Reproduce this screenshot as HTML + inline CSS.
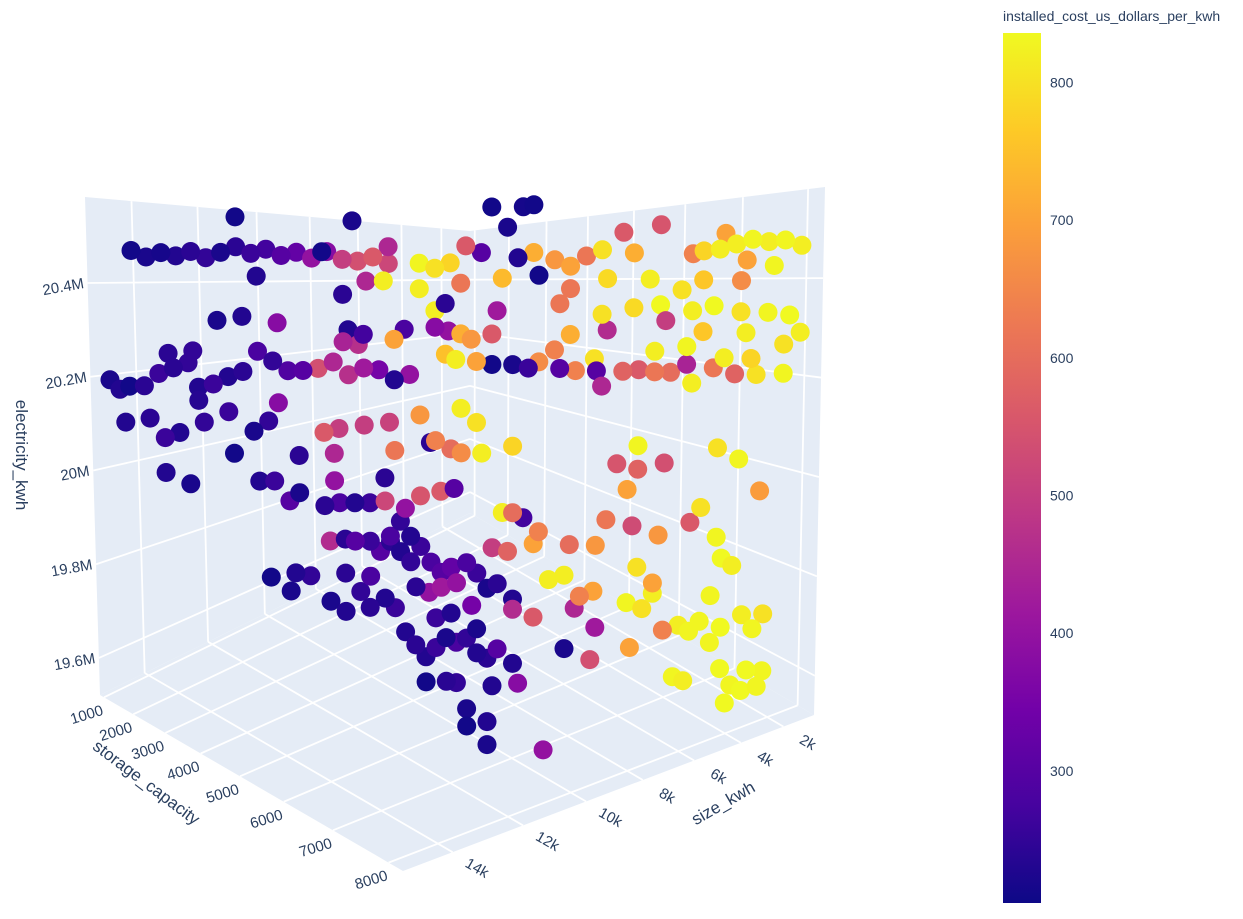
<!DOCTYPE html>
<html><head><meta charset="utf-8"><style>
html,body{margin:0;padding:0;background:#fff;}
svg text{font-family:"Liberation Sans",sans-serif;fill:#2a3f5f;}
</style></head><body>
<svg id="chart" width="1243" height="914" viewBox="0 0 1243 914" xmlns="http://www.w3.org/2000/svg">
<defs>
<linearGradient id="plasma" x1="0" y1="1" x2="0" y2="0">
<stop offset="0" stop-color="#0d0887"/><stop offset="0.111" stop-color="#46039f"/><stop offset="0.222" stop-color="#7201a8"/><stop offset="0.333" stop-color="#9c179e"/><stop offset="0.444" stop-color="#bd3786"/><stop offset="0.556" stop-color="#d8576b"/><stop offset="0.667" stop-color="#ed7953"/><stop offset="0.778" stop-color="#fb9f3a"/><stop offset="0.889" stop-color="#fdca26"/><stop offset="1" stop-color="#f0f921"/>
</linearGradient>
</defs>
<g id="walls"></g>
<g id="grid"></g>
<g id="ticks"></g>
<g id="points"></g>
<text transform="translate(16,455) rotate(90)" text-anchor="middle" font-size="17">electricity_kwh</text>
<text transform="translate(143,787) rotate(37)" text-anchor="middle" font-size="17">storage_capacity</text>
<text transform="translate(726,808) rotate(-30)" text-anchor="middle" font-size="17">size_kwh</text>
<g>
<text x="1003" y="21" font-size="14">installed_cost_us_dollars_per_kwh</text>
<rect x="1003" y="33" width="38" height="870" fill="url(#plasma)"/>
<g id="cbticks"></g>
</g>
</svg>
<script>
const sizeKwh=[14855,14540,14225,13910,13595,13280,12965,12650,12335,12020,11705,11390,11075,10760,10445,10130,9815,9500,12650,10235,12230,10865,
8870,8555,8240,7925,7610,7400,7085,6770,6560,6875,6455,6560,6140,5825,5510,5195,4775,4565,4040,3410,3200,2885,2780,2570,2255,1940,1625,1310,2360,1835,3200,2465,3620,4250,5090,5825,7190,8030,8870,8345,9500,
10445,9962,9605,4040,3410,2990,2465,1940,1520,1310,3935,4565,5195,6035,7295,8555,9185,
15380,15170,14960,14645,14330,14015,13700,13490,13175,12860,12545,12230,11915,11600,14120,13595,13070,12545,11810,11285,10970,10655,10340,10025,9710,9395,9080,10340,10025,10445,10130,9395,8555,8282,8030,7820,7400,8345,8135,7715,7400,6980,6665,6455,6140,6035,5720,5342,5300,5195,4775,4460,4145,3830,3515,3410,2990,2570,2150,1625,2780,2255,3515,4145,3200,2360,1625,5825,5090,
15065,14540,14225,13910,13385,12860,12335,12020,14225,13700,12755,13490,11810,11390,10655,10550,10865,10025,9500,9395,8870,8555,8240,8030,7610,7715,8660,8030,6980,
12230,11915,11600,11390,10865,10550,10235,9920,9605,9185,8870,8450,8177,10655,9605,7190,6770,6980,6455,6560,5825,5300,5090,4565,4040,3410,4880,4460,4670,3935,2465,2045,2885,4460,2885,3200,2780,
12020,11600,11495,11180,10760,10445,10445,10130,9920,9710,9500,9290,9080,8870,8660,8450,8240,8135,7925,7715,7505,7295,6980,6980,10760,10445,10235,9920,9500,9290,9080,8975,8702,8450,7820,7400,7085,6245,5930,5615,5342,5720,6560,5300,4670,4355,4145,3935,3620,3410,3200,2780,2360,1940,2150,2990,2570,4145,4460,
11527,11317,11107,10897,10687,10477,10267,10057,9847,9637,9322,11107,10687,10477,10267,9742,9217,9847,10267,9847,8692,8272,7747,6949,10897,10582,10057,11737,11947,12262,
3725,3515,2675,2570,2255,1940,2360,2045,2780,2990];
const storageCapacity=[1373,1530,1688,1845,2003,2160,2318,2475,2633,2790,2948,3105,3263,3420,3578,3735,3893,4050,2475,3683,2685,3368,
4365,4523,4680,4838,4995,5100,5258,5415,5520,5363,5573,5520,5730,5888,6045,6203,6413,6518,6780,7095,7200,7358,7410,7515,7673,7830,7988,8145,7620,7883,7200,7568,6990,6675,6255,5888,5205,4785,4365,4628,4050,
3578,3819,3998,6780,7095,7305,7568,7830,8040,8145,6833,6518,6203,5783,5153,4523,4208,
1110,1215,1320,1478,1635,1793,1950,2055,2213,2370,2528,2685,2843,3000,1740,2003,2265,2528,2895,3158,3315,3473,3630,3788,3945,4103,4260,3630,3788,3578,3735,4103,4523,4659,4785,4890,5100,4628,4733,4943,5100,5310,5468,5573,5730,5783,5940,6129,6150,6203,6413,6570,6728,6885,7043,7095,7305,7515,7725,7988,7410,7673,7043,6728,7200,7620,7988,5888,6255,
1268,1530,1688,1845,2108,2370,2633,2790,1688,1950,2423,2055,2895,3105,3473,3525,3368,3788,4050,4103,4365,4523,4680,4785,4995,4943,4470,4785,5310,
2685,2843,3000,3105,3368,3525,3683,3840,3998,4208,4365,4575,4712,3473,3998,5205,5415,5310,5573,5520,5888,6150,6255,6518,6780,7095,6360,6570,6465,6833,7568,7778,7358,6570,7358,7200,7410,
2790,3000,3053,3210,3420,3578,3578,3735,3840,3945,4050,4155,4260,4365,4470,4575,4680,4733,4838,4943,5048,5153,5310,5310,3420,3578,3683,3840,4050,4155,4260,4313,4449,4575,4890,5100,5258,5678,5835,5993,6129,5940,5520,6150,6465,6623,6728,6833,6990,7095,7200,7410,7620,7830,7725,7305,7515,6728,6570,
5646,5751,5856,5961,6066,6171,6276,6381,6486,6591,6749,5856,6066,6171,6276,6539,6801,6486,6276,6486,7064,7274,7536,7935,5961,6119,6381,5541,5436,5279,
6938,7043,7463,7515,7673,7830,7620,7778,7410,7305];
const electricityM=[20.465,20.45,20.458,20.45,20.458,20.444,20.454,20.465,20.45,20.458,20.444,20.45,20.437,20.45,20.433,20.429,20.437,20.423,20.528,20.513,20.402,20.45,
20.423,20.412,20.423,20.458,20.444,20.538,20.496,20.538,20.542,20.433,20.397,20.444,20.429,20.416,20.437,20.45,20.486,20.444,20.502,20.444,20.45,20.454,20.486,20.465,20.475,20.471,20.475,20.465,20.433,20.423,20.391,20.391,20.37,20.391,20.391,20.37,20.391,20.381,20.37,20.339,20.458,
20.36,20.387,20.387,20.339,20.328,20.339,20.328,20.328,20.324,20.29,20.307,20.332,20.318,20.339,20.324,20.324,20.286,
20.192,20.171,20.177,20.177,20.202,20.213,20.223,20.171,20.177,20.192,20.202,20.244,20.223,20.202,20.244,20.248,20.311,20.318,20.303,20.202,20.206,20.219,20.192,20.206,20.202,20.181,20.192,20.286,20.276,20.261,20.255,20.265,20.29,20.282,20.276,20.265,20.276,20.234,20.223,20.219,20.213,20.213,20.206,20.219,20.244,20.206,20.202,20.227,20.202,20.171,20.202,20.206,20.202,20.202,20.219,20.181,20.213,20.202,20.202,20.206,20.234,20.234,20.255,20.244,20.286,20.286,20.265,20.276,20.286,
20.101,20.108,20.066,20.076,20.097,20.118,20.076,20.097,19.992,19.967,20.03,20.143,20.135,20.024,20.028,20.08,20.072,20.087,20.093,20.034,20.108,20.055,20.038,20.03,20.03,20.093,20.051,20.122,20.045,
19.971,19.971,19.929,19.946,19.919,19.925,19.925,19.925,19.977,19.914,19.94,19.95,19.956,19.971,19.929,19.908,19.898,19.908,19.87,19.845,19.845,19.845,19.898,19.887,19.87,19.898,20.013,20.003,19.961,20.017,20.03,19.967,20.051,20.051,19.87,19.929,19.828,
19.769,19.74,19.778,19.772,19.719,19.698,19.778,19.74,19.772,19.824,19.845,19.824,19.803,19.835,19.803,19.782,19.793,19.761,19.803,19.782,19.751,19.761,19.73,19.709,19.845,19.849,19.845,19.845,19.856,19.887,19.856,19.751,19.74,19.751,19.715,19.835,19.828,19.772,19.782,19.74,19.751,19.715,19.694,19.677,19.73,19.719,19.751,19.677,19.688,19.677,19.698,19.688,19.715,19.719,19.688,19.751,19.814,19.772,19.803,
19.75,19.727,19.706,19.723,19.741,19.733,19.741,19.715,19.706,19.723,19.698,19.661,19.663,19.661,19.615,19.657,19.663,19.593,19.584,19.552,19.546,19.727,19.709,19.733,19.776,19.785,19.758,19.793,19.81,19.793,
19.583,19.576,19.535,19.572,19.604,19.604,19.562,19.572,19.604,19.656];
const installedCost=[210,220,215,230,240,250,220,240,260,270,300,320,400,380,500,540,560,520,210,220,230,210,
830,800,780,560,300,210,220,215,210,230,210,720,680,700,620,800,560,720,550,640,780,820,700,820,830,820,830,820,700,830,760,660,800,820,790,620,740,620,820,240,450,
240,450,820,840,820,840,800,830,840,820,500,790,800,620,420,820,280,
220,230,210,240,260,240,250,230,260,230,240,280,250,290,240,250,220,230,380,300,540,450,470,420,350,230,400,230,270,440,470,700,380,400,720,680,560,750,820,700,210,220,260,660,640,300,640,800,300,450,580,560,620,600,440,820,620,580,800,830,820,780,830,820,760,820,800,720,460,
230,240,260,230,250,260,220,250,230,220,210,235,380,240,450,500,560,500,510,620,680,640,600,660,820,800,240,820,780,
230,260,300,220,240,280,230,260,240,400,550,560,300,400,520,820,270,600,640,700,600,680,620,530,680,560,550,580,700,540,830,690,800,830,830,800,840,
210,220,230,250,220,230,240,250,280,300,240,230,250,260,280,300,320,400,280,260,220,240,230,460,460,240,300,260,280,250,230,240,400,420,350,500,580,820,820,640,700,450,560,420,830,800,820,640,820,830,830,840,820,800,830,830,820,700,800,
230,240,230,260,220,280,250,230,240,300,230,210,240,250,220,230,380,230,210,220,400,220,540,700,260,230,220,260,230,240,
830,820,840,830,840,830,840,830,840,830];
const sizeTicks=[2000,4000,6000,8000,10000,12000,14000];
const sizeTickLabels=["2k","4k","6k","8k","10k","12k","14k"];
const storageTicks=[1000,2000,3000,4000,5000,6000,7000,8000];
const elecTicks=[19.6,19.8,20.0,20.2,20.4];
const elecTickLabels=["19.6M","19.8M","20M","20.2M","20.4M"];
const costTicks=[300,400,500,600,700,800];

const NS="http://www.w3.org/2000/svg";
const X0=890,X1=15800,Y0=900,Y1=8355,Z0=19.521,Z1=20.5834,C0=204,C1=836;
const C={L0:[100,695],L1:[85,197],B0:[470,513],B1:[470,231],R0:[814,715],R1:[825,187],F0:[403,871],F1:[399,127]};
function bil(a,b,f,r,u,v){return [a[0]*(1-u)*(1-v)+b[0]*u*(1-v)+f[0]*(1-u)*v+r[0]*u*v, a[1]*(1-u)*(1-v)+b[1]*u*(1-v)+f[1]*(1-u)*v+r[1]*u*v];}
function proj(u,v,w){const p=bil(C.L0,C.B0,C.F0,C.R0,u,v),q=bil(C.L1,C.B1,C.F1,C.R1,u,v);return [p[0]+w*(q[0]-p[0]),p[1]+w*(q[1]-p[1])];}
const xs=s=>(X1-s)/(X1-X0), ys=s=>(s-Y0)/(Y1-Y0), zs=e=>(e-Z0)/(Z1-Z0);
const warp=(s,k)=>k*s/(1+(k-1)*s);
function xTick(t){const a=xs(14000),b=xs(2000);return a+(b-a)*warp((14000-t)/12000,1.353);}
function yTick(t){const a=ys(1000),b=ys(8000);return a+(b-a)*warp((t-1000)/7000,0.686);}
function el(tag,at,parent){const e=document.createElementNS(NS,tag);for(const k in at)e.setAttribute(k,at[k]);parent.appendChild(e);return e;}
const pts=a=>a.map(p=>p[0].toFixed(1)+","+p[1].toFixed(1)).join(" ");
const walls=document.getElementById('walls'),grid=document.getElementById('grid'),ticks=document.getElementById('ticks'),gp=document.getElementById('points');
let w1=el('polygon',{points:pts([proj(0,0,0),proj(1,0,0),proj(1,0,1),proj(0,0,1)]),fill:'#e5ecf6'},walls);


let w2=el('polygon',{points:pts([proj(1,0,0),proj(1,1,0),proj(1,1,1),proj(1,0,1)]),fill:'#e5ecf6'},walls);


let w3=el('polygon',{points:pts([proj(0,0,0),proj(1,0,0),proj(1,1,0),proj(0,1,0)]),fill:'#e5ecf6'},walls);


function line(a,b,name){const l=el('line',{x1:a[0],y1:a[1],x2:b[0],y2:b[1],stroke:'#fff','stroke-width':1.8},grid);

}
sizeTicks.forEach(t=>{const u=xTick(t);line(proj(u,0,0),proj(u,0,1),'x-grid-wall');line(proj(u,0,0),proj(u,1,0),'x-grid-floor');});
storageTicks.forEach(t=>{const v=yTick(t);line(proj(1,v,0),proj(1,v,1),'y-grid-wall');line(proj(0,v,0),proj(1,v,0),'y-grid-floor');});
elecTicks.forEach(t=>{const w=zs(t);line(proj(0,0,w),proj(1,0,w),'z-grid-left');line(proj(1,0,w),proj(1,1,w),'z-grid-right');});
function label(x,y,rot,anchor,txt,name){const t=el('text',{transform:`translate(${x.toFixed(1)},${y.toFixed(1)}) rotate(${rot})`,'text-anchor':anchor,'font-size':15},ticks);t.textContent=txt;

}
sizeTicks.forEach((t,i)=>{const p=proj(xTick(t),1,0);label(p[0]+22,p[1]+20,30,'middle',sizeTickLabels[i],'x-tick-label');});
storageTicks.forEach(t=>{const p=proj(0,yTick(t),0);label(p[0]-16,p[1]+22,-17,'middle',String(t),'y-tick-label');});
elecTicks.forEach((t,i)=>{const p=proj(0,0,zs(t));label(p[0]-3,p[1]+5,-10,'end',elecTickLabels[i],'z-tick-label');});
const stops=[[13,8,135],[70,3,159],[114,1,168],[156,23,158],[189,55,134],[216,87,107],[237,121,83],[251,159,58],[253,202,38],[240,249,33]];
function plasma(c){let f=Math.max(0,Math.min(1,(c-C0)/(C1-C0)))*9;const i=Math.min(8,Math.floor(f)),r=f-i;const a=stops[i],b=stops[i+1];return `rgb(${a.map((x,k)=>Math.round(x+(b[k]-x)*r)).join(',')})`;}
const order=sizeKwh.map((s,i)=>i).sort((a,b)=>(xs(sizeKwh[b])-ys(storageCapacity[b]))-(xs(sizeKwh[a])-ys(storageCapacity[a])));
order.forEach(i=>{const p=proj(xs(sizeKwh[i]),ys(storageCapacity[i]),zs(electricityM[i]));
const c=el('circle',{cx:p[0].toFixed(1),cy:p[1].toFixed(1),r:9.5,fill:plasma(installedCost[i])},gp);

});
const cb=document.getElementById('cbticks');
costTicks.forEach(t=>{const y=903-(t-C0)/(C1-C0)*870;const tx=el('text',{x:1050,y:(y+5).toFixed(1),'font-size':14},cb);tx.textContent=String(t);

});
</script>
</body></html>
